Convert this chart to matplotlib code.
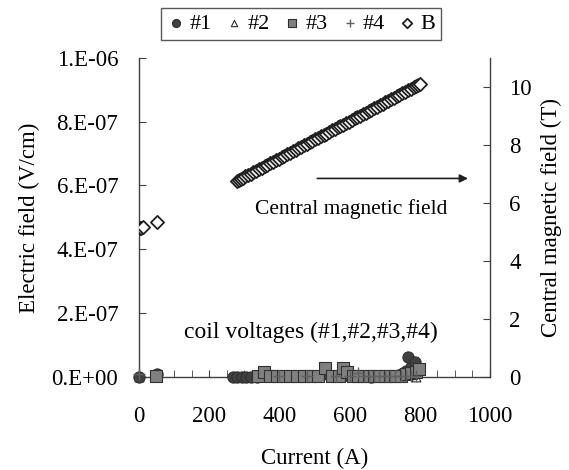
import matplotlib
matplotlib.use("Agg")
import matplotlib.pyplot as plt
from matplotlib.ticker import FixedLocator

plt.rcParams['font.family'] = ['Liberation Serif', 'DejaVu Serif']

# ---- data ----
# #1 coil voltage (V/cm) vs current (A)
c1_I = [0, 50, 268, 280, 292, 305, 318, 335, 380, 420, 460, 500, 540, 580, 620,
        660, 700, 740, 752, 760, 766, 775, 786, 795]
c1_E = [0, 8e-9, 0, 0, 0, 0, 0, 1e-9, 2e-9, 3e-9, 2e-9, 4e-9, 6e-9, 3e-9, 2e-9,
        1e-9, 2e-9, 5e-9, 1.2e-8, 1.8e-8, 6.3e-8, 3.0e-8, 4.7e-8, 2.0e-8]
# #2
c2_I = [0, 48, 300, 420, 560, 700, 790]
c2_E = [0, 0, 0, 0, 0, 0, 0]
# #3
c3_I = [48, 340, 355, 372, 392, 410, 430, 450, 470, 490, 510, 530, 550, 570, 581,
        592, 610, 625, 640, 655, 670, 685, 700, 715, 730, 745, 760, 775, 790, 798]
c3_E = [2e-9, 3e-9, 1.6e-8, 4e-9, 3e-9, 4e-9, 2e-9, 3e-9, 4e-9, 3e-9, 2e-9, 2.8e-8,
        4e-9, 3e-9, 2.8e-8, 1.5e-8, 4e-9, 3e-9, 2e-9, 3e-9, 2e-9, 2e-9, 3e-9, 4e-9,
        3e-9, 4e-9, 8e-9, 1.2e-8, 1.5e-8, 2.5e-8]
# #4
c4_I = [0, 400, 480, 560, 600, 624, 640, 655, 670, 685, 700, 715, 730, 745, 760, 775, 790]
c4_E = [1e-8, 2e-9, 3e-9, 2e-9, 3e-9, 1.2e-8, 3e-9, 2e-9, 2e-9, 3e-9, 2e-9, 3e-9,
        2e-9, 3e-9, 4e-9, 3e-9, 3e-9]
# B central magnetic field (T)
B_I = [2, 6, 10, 50,
       278, 284, 290, 296, 302, 310, 318, 326, 334, 342, 350, 358, 366, 374, 382,
       390, 398, 406, 414, 422, 430, 438, 446, 454, 462, 470, 478, 486, 494, 502,
       510, 518, 526, 534, 542, 550, 558, 566, 574, 582, 590, 598, 606, 614, 622,
       630, 638, 646, 654, 662, 670, 678, 686, 694, 702, 710, 718, 726, 734, 742,
       750, 758, 766, 774, 782, 790, 796, 800]
B_T = [5.12, 5.15, 5.18, 5.33,
       6.75, 6.79, 6.83, 6.87, 6.91, 6.96, 7.01, 7.06, 7.11, 7.16, 7.21, 7.26, 7.32,
       7.37, 7.42, 7.47, 7.52, 7.57, 7.62, 7.68, 7.73, 7.78, 7.83, 7.88, 7.93, 7.98,
       8.03, 8.09, 8.14, 8.19, 8.24, 8.29, 8.34, 8.39, 8.44, 8.50, 8.55, 8.60, 8.65,
       8.70, 8.75, 8.80, 8.85, 8.91, 8.96, 9.01, 9.06, 9.11, 9.16, 9.21, 9.26, 9.32,
       9.37, 9.42, 9.47, 9.52, 9.57, 9.62, 9.67, 9.73, 9.78, 9.83, 9.88, 9.93, 9.98,
       10.03, 10.07, 10.10]

x_ticks = [0, 200, 400, 600, 800, 1000]
y_ticks = [0, 2e-7, 4e-7, 6e-7, 8e-7, 1e-6]
y_labels = ['0.E+00', '2.E-07', '4.E-07', '6.E-07', '8.E-07', '1.E-06']
y2_ticks = [0, 2, 4, 6, 8, 10]

# ---- figure ----
fig = plt.figure(figsize=(5.69, 4.70), dpi=100)
ax = fig.add_axes([0.2443, 0.198, 0.8612 - 0.2443, 0.877 - 0.198])
ax2 = ax.twinx()

FS = 16.5
spine_col = '#404040'
h1 = ax.scatter(c1_I, c1_E, marker='o', s=65, facecolor='#404040', edgecolor='#303030', lw=0.8, zorder=3, clip_on=False)
h2 = ax.scatter(c2_I, c2_E, marker='^', s=40, facecolor='white', edgecolor='#303030', lw=0.8, zorder=2, clip_on=False)
h3 = ax.scatter(c3_I, c3_E, marker='s', s=65, facecolor='#808080', edgecolor='#303030', lw=0.8, zorder=4, clip_on=False)
h4 = ax.scatter(c4_I, c4_E, marker='+', s=80, color='#606060', lw=1.0, zorder=5, clip_on=False)
h5 = ax2.scatter(B_I, B_T, marker='D', s=45, facecolor='white', edgecolor='#202020', lw=1.3, zorder=3)

ax.set_xlim(0, 1000)
ax.set_ylim(0, 1e-6)
ax2.set_ylim(0, 11)

ax.xaxis.set_major_locator(FixedLocator(x_ticks))
ax.xaxis.set_minor_locator(FixedLocator(list(range(0, 1001, 50))))
ax.yaxis.set_major_locator(FixedLocator(y_ticks))
ax.set_yticklabels(y_labels)
ax2.yaxis.set_major_locator(FixedLocator(y2_ticks))

for a in (ax, ax2):
    a.spines['top'].set_visible(False)
    for s in ('left', 'right', 'bottom'):
        a.spines[s].set_color(spine_col)
        a.spines[s].set_linewidth(1.0)
ax.spines['right'].set_visible(False)
ax2.spines['left'].set_visible(False)
ax2.spines['bottom'].set_visible(False)

ax.tick_params(axis='x', which='both', direction='in', length=5, color=spine_col, labelsize=FS, pad=21)
ax.tick_params(axis='y', which='both', direction='in', length=5, color=spine_col, labelsize=FS, pad=15)
ax2.tick_params(axis='y', direction='in', length=5, color=spine_col, labelsize=FS, pad=14)

ax.set_xlabel('Current (A)', fontsize=FS, labelpad=15)
ax.set_ylabel('Electric field (V/cm)', fontsize=FS, labelpad=8)
ax2.set_ylabel('Central magnetic field (T)', fontsize=FS, labelpad=6)

ax.text(0.49, 0.138, 'coil voltages (#1,#2,#3,#4)', transform=ax.transAxes, fontsize=17, ha='center', va='center')
ax.text(0.605, 0.525, 'Central magnetic field', transform=ax.transAxes, fontsize=15.5, ha='center', va='center')
ax.annotate('', xy=(0.945, 0.622), xytext=(0.5, 0.622), xycoords='axes fraction',
            arrowprops=dict(arrowstyle='-|>', color='#202020', lw=1.2, mutation_scale=12))

leg = fig.legend([h1, h2, h3, h4, h5], ['#1', '#2', '#3', '#4', 'B'], loc='center',
                 bbox_to_anchor=(0.529, 0.949), ncol=5, fontsize=16, frameon=True,
                 handletextpad=0.15, columnspacing=0.55, borderpad=0.25, handlelength=0.9,
                 fancybox=False, edgecolor='#303030', markerscale=0.72,
                 borderaxespad=0)
leg.get_frame().set_linewidth(1.0)

fig.savefig('out.png', dpi=100)
